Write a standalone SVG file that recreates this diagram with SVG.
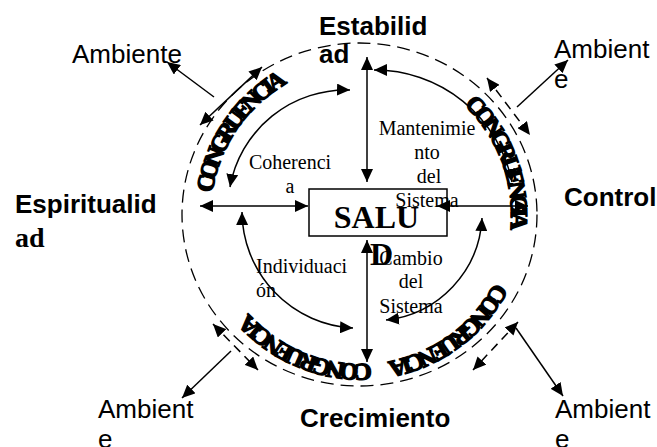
<svg xmlns="http://www.w3.org/2000/svg" xmlns:xlink="http://www.w3.org/1999/xlink" width="657" height="447" viewBox="0 0 657 447">
<style>
.ln{fill:none;stroke:#000;stroke-width:1.5}
.dl{fill:none;stroke:#000;stroke-width:1.5;stroke-dasharray:9 6}
.sans{font-family:"Liberation Sans",Arial,sans-serif;font-size:26px;fill:#000}
.bold{font-weight:bold}
.serif{font-family:"Liberation Serif","Times New Roman",serif;font-size:20px;fill:#000}
.cong{font-family:"Liberation Serif","Times New Roman",serif;font-size:24px;font-weight:bold;letter-spacing:-4.6px;fill:#000;stroke:#000;stroke-width:1.4}
</style>
<defs>
<marker id="ah" viewBox="0 0 13 12" refX="13" refY="6" markerWidth="13" markerHeight="12" markerUnits="userSpaceOnUse" orient="auto-start-reverse">
<path d="M0,0 L13,6 L0,12 z" fill="#000"/>
</marker>
<path id="ring" d="M511,214 A150,150 0 1 1 211,214 A150,150 0 1 1 511,214 A150,150 0 1 1 211,214 A150,150 0 1 1 511,214"/>
</defs>
<rect width="657" height="447" fill="#fff"/>

<g id="boundary">
<ellipse cx="359.5" cy="214.5" rx="177.5" ry="171.5" fill="none" stroke="#000" stroke-width="1.3" stroke-dasharray="13 7"/>
</g>

<g id="congruencia">
<text class="cong"><textPath xlink:href="#ring" href="#ring" startOffset="492">CONGRUENCIA</textPath></text>
<text class="cong"><textPath xlink:href="#ring" href="#ring" startOffset="820">CONGRUENCIA</textPath></text>
<text class="cong"><textPath xlink:href="#ring" href="#ring" startOffset="71">CONGRUENCIA</textPath></text>
<text class="cong"><textPath xlink:href="#ring" href="#ring" startOffset="225">CONGRUENCIA</textPath></text>
</g>

<g id="connectors">
<line class="ln" x1="367" y1="57" x2="367" y2="182" marker-start="url(#ah)" marker-end="url(#ah)"/>
<line class="ln" x1="367" y1="240" x2="367" y2="362" marker-start="url(#ah)" marker-end="url(#ah)"/>
<line class="ln" x1="200" y1="206" x2="308" y2="206" marker-start="url(#ah)" marker-end="url(#ah)"/>
<line class="ln" x1="437" y1="206" x2="528" y2="206" marker-start="url(#ah)" marker-end="url(#ah)"/>
<path class="ln" d="M350,90 A118,118 0 0 0 230,187" marker-start="url(#ah)" marker-end="url(#ah)"/>
<path class="ln" d="M374,70 A140,140 0 0 1 512,182" marker-start="url(#ah)" marker-end="url(#ah)"/>
<path class="ln" d="M242,212 A117,117 0 0 0 353,328" marker-start="url(#ah)" marker-end="url(#ah)"/>
<path class="ln" d="M482,218 A108,108 0 0 1 386,320" marker-start="url(#ah)" marker-end="url(#ah)"/>
<line class="ln" x1="262" y1="67" x2="200" y2="125" marker-start="url(#ah)" marker-end="url(#ah)"/>
<line class="dl" x1="487" y1="78" x2="530" y2="135" marker-start="url(#ah)" marker-end="url(#ah)"/>
<line class="dl" x1="213" y1="324" x2="258" y2="370" marker-start="url(#ah)" marker-end="url(#ah)"/>
<line class="dl" x1="518" y1="322" x2="473" y2="370" marker-start="url(#ah)" marker-end="url(#ah)"/>
<line class="ln" x1="214" y1="97" x2="167" y2="62" marker-end="url(#ah)"/>
<line class="ln" x1="517" y1="107" x2="568" y2="60" marker-end="url(#ah)"/>
<line class="ln" x1="231" y1="351" x2="182" y2="398" marker-end="url(#ah)"/>
<line class="ln" x1="516" y1="328" x2="563" y2="396" marker-end="url(#ah)"/>
</g>

<g id="salud">
<rect x="309" y="189" width="138" height="47" fill="none" stroke="#000" stroke-width="1.5"/>
<text class="serif bold" style="font-size:32px" x="376.5" y="228" text-anchor="middle">SALU</text>
<text class="serif bold" style="font-size:32px" x="370" y="265">D</text>
</g>

<g id="estabilidad"><text class="sans bold" x="319" y="35">Estabilid</text><text class="sans bold" x="319" y="63">ad</text></g>
<g id="espiritualidad"><text class="sans bold" x="15" y="213">Espiritualid</text><text class="serif bold" style="font-size:28px" x="15" y="247">ad</text></g>
<g id="control"><text class="sans bold" x="564" y="206">Control</text></g>
<g id="crecimiento"><text class="sans bold" x="300" y="427">Crecimiento</text></g>

<g id="ambiente-tl"><text class="sans" x="72" y="63">Ambiente</text></g>
<g id="ambiente-tr"><text class="sans" x="554" y="58">Ambient</text><text class="sans" x="554" y="88">e</text></g>
<g id="ambiente-bl"><text class="sans" x="98" y="418">Ambient</text><text class="sans" x="98" y="448">e</text></g>
<g id="ambiente-br"><text class="sans" x="555" y="418">Ambient</text><text class="sans" x="555" y="448">e</text></g>

<g id="mantenimiento" text-anchor="middle">
<text class="serif" x="427" y="135">Mantenimie</text>
<text class="serif" x="427" y="159">nto</text>
<text class="serif" x="429" y="183">del</text>
<text class="serif" x="427" y="207">Sistema</text>
</g>
<g id="coherencia" text-anchor="middle">
<text class="serif" x="290" y="169">Coherenci</text>
<text class="serif" x="290" y="193">a</text>
</g>
<g id="individuacion">
<text class="serif" x="256" y="273">Individuaci</text>
<text class="serif" x="256" y="297">ón</text>
</g>
<g id="cambio" text-anchor="middle">
<text class="serif" x="411" y="265">Cambio</text>
<text class="serif" x="411" y="288">del</text>
<text class="serif" x="411" y="313">Sistema</text>
</g>
</svg>
